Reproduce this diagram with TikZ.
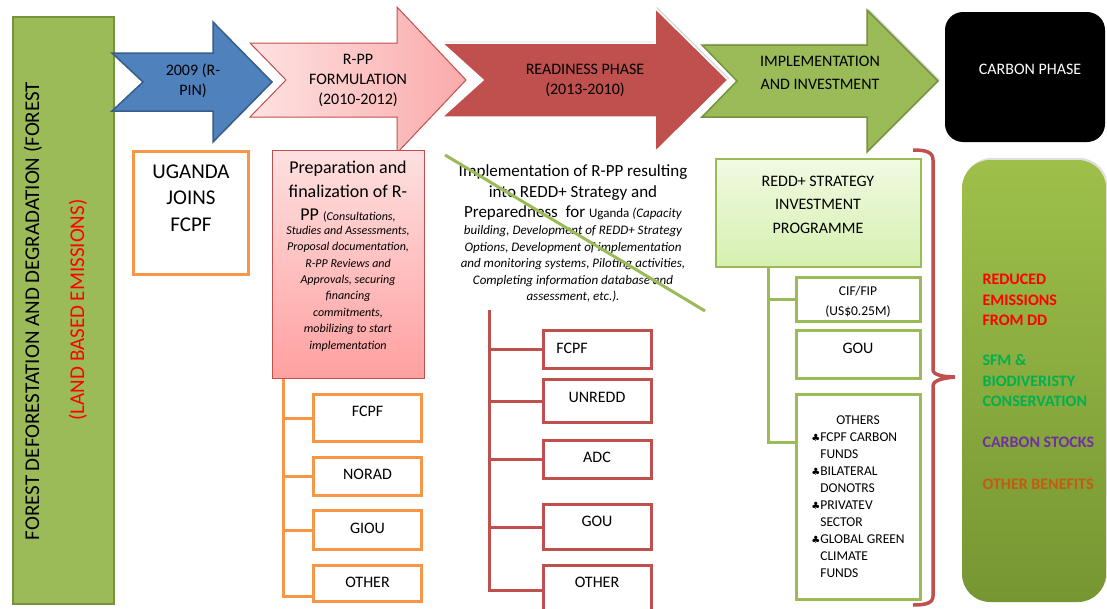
\documentclass[tikz,border=0pt]{standalone}
\usepackage{fontspec}
\setmainfont{Carlito}
\newfontfamily\clubfont{DejaVu Sans}
\usetikzlibrary{shadows}

\begin{document}
\begin{tikzpicture}[x=1pt,y=1pt,yscale=-1,xscale=1,
  arrowtext/.style={align=center, font=\fontsize{16}{20}\selectfont},
  boxtext/.style={font=\fontsize{16}{20}\selectfont},
  orangebox/.style={draw={rgb,255:red,247;green,150;blue,70}, line width=3, fill=white, minimum width=108},
  redbox/.style={draw={rgb,255:red,192;green,80;blue,77}, line width=3, fill=white, minimum width=108},
  greenbox/.style={draw={rgb,255:red,155;green,187;blue,89}, line width=3, fill=white, minimum width=124},
  orangeline/.style={draw={rgb,255:red,247;green,150;blue,70}, line width=3},
  redline/.style={draw={rgb,255:red,192;green,80;blue,77}, line width=3},
  greenline/.style={draw={rgb,255:red,155;green,187;blue,89}, line width=3},
  benefit/.style={anchor=west, align=left, font=\fontsize{16}{20.5}\selectfont\bfseries},
  ]
\useasboundingbox (0,0) rectangle (1107,608);

%Shape: Rectangle [left bar]
\node [draw={rgb,255:red,118;green,146;blue,60}, line width=2, fill={rgb,255:red,155;green,187;blue,89}, minimum width=101, minimum height=587] (bar) at (63.5,310.5) {};
% Text Node
\node [rotate=90, font=\fontsize{21}{25}\selectfont] (bartitle) at (33,311) {FOREST DEFORESTATION AND DEGRADATION (FOREST};
% Text Node
\node [rotate=90, font=\fontsize{21}{25}\selectfont, text={rgb,255:red,255;green,0;blue,0}] (barnote) at (78,310) {(LAND BASED EMISSIONS)};

%Shape: Arrow [2009]
\draw [draw={rgb,255:red,56;green,93;blue,138}, line width=1.5, fill={rgb,255:red,79;green,129;blue,189}] (112,53) -- (213,53) -- (213,22) -- (272,82) -- (213,142) -- (213,111) -- (112,111) -- (143,82) -- cycle ;
%Shape: Arrow [readiness]
\draw [draw=white, line width=1.5, fill={rgb,255:red,192;green,80;blue,77}, drop shadow={opacity=0.3, shadow xshift=1.5pt, shadow yshift=1.5pt}] (442,43) -- (655,43) -- (655,8) -- (728,80) -- (655,152) -- (655,117) -- (442,117) -- (483,80) -- cycle ;
%Shape: Arrow [R-PP]
\draw [draw={rgb,255:red,192;green,80;blue,77}, line width=1, left color={rgb,255:red,255;green,226;blue,226}, right color={rgb,255:red,250;green,170;blue,170}] (250,43) -- (397,43) -- (397,7) -- (466,80) -- (397,153) -- (397,117) -- (250,117) -- (286,80) -- cycle ;
%Shape: Arrow [implementation]
\draw [draw={rgb,255:red,118;green,146;blue,60}, line width=1.5, fill={rgb,255:red,155;green,187;blue,89}, drop shadow={opacity=0.3, shadow xshift=1.5pt, shadow yshift=1.5pt}] (702,45) -- (867,45) -- (867,10) -- (938,81) -- (867,152) -- (867,117) -- (702,117) -- (737,81) -- cycle ;

% Text Node
\node [arrowtext] (rpin) at (193,81) {2009 (R-\\PIN)};
% Text Node
\node [arrowtext] (rppform) at (358,80) {R-PP\\FORMULATION\\(2010-2012)};
% Text Node
\node [arrowtext] (readiness) at (585,80) {READINESS PHASE\\(2013-2010)};
% Text Node
\node [arrowtext, font=\fontsize{16}{23}\selectfont] (implinv) at (820,72.5) {IMPLEMENTATION\\AND INVESTMENT};

%Shape: Rounded Rectangle [carbon phase]
\node [fill=black, rounded corners=18, minimum width=160, minimum height=130] (carbon) at (1025,77) {};
% Text Node
\node [boxtext, text=white] (carbontext) at (1030,69) {CARBON PHASE};

%Shape: Rectangle [Uganda]
\node [orangebox, minimum width=115, minimum height=123] (uganda) at (191,213) {};
% Text Node
\node [align=center, font=\fontsize{21}{26.5}\selectfont] (ugandatext) at (191,198) {UGANDA\\JOINS\\FCPF};

%Shape: Rectangle [preparation]
\node [draw={rgb,255:red,192;green,80;blue,77}, line width=1.2, top color={rgb,255:red,254;green,224;blue,224}, bottom color={rgb,255:red,255;green,160;blue,160}, minimum width=152, minimum height=228] (prep) at (348.5,264.5) {};
% Text Node
\node [align=center, font=\fontsize{18}{23.5}\selectfont] (preptitle) at (348,192) {Preparation and\\finalization of R-\\PP {\fontsize{12}{14}\selectfont(\textit{Consultations,}}};
% Text Node
\node [align=center, font=\fontsize{12}{16.4}\selectfont\itshape] (prepnote) at (348,288.5) {Studies and Assessments,\\Proposal documentation,\\R-PP Reviews and\\Approvals, securing\\financing\\commitments,\\mobilizing to start\\implementation};

% Text Node
\node [align=center, font=\fontsize{17}{20.5}\selectfont] (impltitle) at (573,192.5) {Implementation of R-PP resulting\\into REDD+ Strategy and\\Preparedness\ \ for {\fontsize{13}{15}\selectfont Uganda \textit{(Capacity}}};
% Text Node
\node [align=center, font=\fontsize{13}{16.5}\selectfont\itshape] (implnote) at (573,264) {building, Development of REDD+ Strategy\\Options, Development of implementation\\and monitoring systems, Piloting activities,\\Completing information database and\\assessment, etc.).};

%Straight Lines [strike]
\coordinate (strikeA) at (445,155);
\coordinate (strikeB) at (705,311);
\draw [greenline, drop shadow={opacity=0.25, shadow xshift=1pt, shadow yshift=1pt}] (strikeA) -- (strikeB) ;

%Shape: Rectangle [orange tree]
\node [orangebox, minimum height=47] (ofcpf) at (367.5,418) {};
\node [orangebox, minimum height=38] (onorad) at (367.5,476.5) {};
\node [orangebox, minimum height=39] (ogiou) at (367.5,530) {};
\node [orangebox, minimum height=36] (oother) at (367.5,583.5) {};
% Text Node
\node [boxtext] (ofcpft) at (367.5,411) {FCPF};
\node [boxtext] (onoradt) at (367.5,474) {NORAD};
\node [boxtext] (ogiout) at (367.5,528) {GIOU};
\node [boxtext] (oothert) at (367.5,582) {OTHER};
%Straight Lines [orange tree]
\coordinate (otrunk) at (283,596);
\draw [orangeline] (prep.south -| otrunk) -- (otrunk) -- (otrunk -| oother.west) ;
\draw [orangeline] (ofcpf.west -| otrunk) -- (ofcpf.west) ;
\draw [orangeline] (onorad.west -| otrunk) -- (onorad.west) ;
\draw [orangeline] (ogiou.west -| otrunk) -- (ogiou.west) ;

%Shape: Rectangle [red tree]
\node [redbox, minimum height=38] (rfcpf) at (597.5,349.5) {};
\node [redbox, minimum height=43] (runredd) at (597.5,401) {};
\node [redbox, minimum height=38] (radc) at (597.5,459.5) {};
\node [redbox, minimum height=45] (rgou) at (597.5,527) {};
\node [redbox, minimum height=49] (rother) at (597.5,590) {};
% Text Node
\node [boxtext] (rfcpft) at (572,348) {FCPF};
\node [boxtext] (runreddt) at (597,397) {UNREDD};
\node [boxtext] (radct) at (597,457) {ADC};
\node [boxtext] (rgout) at (597,521) {GOU};
\node [boxtext] (rothert) at (597,582) {OTHER};
%Straight Lines [red tree]
\coordinate (rtrunk) at (489,310);
\draw [redline] (rtrunk) -- (rtrunk |- rother.west) -- (rother.west) ;
\draw [redline] (rfcpf.west -| rtrunk) -- (rfcpf.west) ;
\draw [redline] (runredd.west -| rtrunk) -- (runredd.west) ;
\draw [redline] (radc.west -| rtrunk) -- (radc.west) ;
\draw [redline] (rgou.west -| rtrunk) -- (rgou.west) ;

%Shape: Rectangle [REDD+ strategy]
\node [draw={rgb,255:red,155;green,187;blue,89}, line width=1.5, top color={rgb,255:red,240;green,250;blue,225}, bottom color={rgb,255:red,214;green,240;blue,176}, minimum width=205, minimum height=108] (redd) at (818.5,213) {};
% Text Node
\node [align=center, font=\fontsize{16}{23.5}\selectfont] (reddtext) at (818,204.5) {REDD+ STRATEGY\\INVESTMENT\\PROGRAMME};

%Shape: Rectangle [green tree]
\node [greenbox, minimum height=44] (gcif) at (858.5,299.5) {};
\node [greenbox, minimum height=48] (ggou) at (858.5,354.5) {};
\node [greenbox, minimum height=205] (gothers) at (858.5,497) {};
% Text Node
\node [align=center, font=\fontsize{13.5}{20}\selectfont] (gcift) at (858,302) {CIF/FIP\\(US\$0.25M)};
\node [boxtext] (ggout) at (858,348) {GOU};
\node [font=\fontsize{13.5}{17}\selectfont] (gotherst) at (858,498) {\begin{tabular}{@{}l@{}l@{}}
\multicolumn{2}{c}{OTHERS}\\
{\clubfont\fontsize{10}{12}\selectfont ♣} & FCPF CARBON\\
 & FUNDS\\
{\clubfont\fontsize{10}{12}\selectfont ♣} & BILATERAL\\
 & DONOTRS\\
{\clubfont\fontsize{10}{12}\selectfont ♣} & PRIVATEV\\
 & SECTOR\\
{\clubfont\fontsize{10}{12}\selectfont ♣} & GLOBAL GREEN\\
 & CLIMATE\\
 & FUNDS
\end{tabular}};
%Straight Lines [green tree]
\coordinate (gtrunk) at (768,442);
\draw [greenline] (redd.south -| gtrunk) -- (gtrunk) -- (gtrunk -| gothers.west) ;
\draw [greenline] (gcif.west -| gtrunk) -- (gcif.west) ;

%Shape: Brace [red]
\draw [draw={rgb,255:red,192;green,80;blue,77}, line width=3.5] (913,150) .. controls (926,150) and (933,152) .. (933,160) -- (933,370) .. controls (933,375) and (944,377) .. (955,377) .. controls (944,378) and (933,380) .. (933,386) -- (933,596) .. controls (933,603) and (926,605) .. (913,605) ;

%Shape: Rounded Rectangle [benefits]
\node [rounded corners=28, top color={rgb,255:red,158;green,192;blue,74}, bottom color={rgb,255:red,118;green,150;blue,50}, minimum width=144, minimum height=442, drop shadow={opacity=0.25, shadow xshift=1.5pt, shadow yshift=2pt}] (benefits) at (1034,381) {};
% Text Node
\node [benefit, text={rgb,255:red,255;green,0;blue,0}] (reduced) at (979,300) {REDUCED\\EMISSIONS\\FROM DD};
\node [benefit, text={rgb,255:red,0;green,176;blue,80}] (sfm) at (979,381) {SFM \&\\BIODIVERISTY\\CONSERVATION};
\node [benefit, text={rgb,255:red,112;green,48;blue,160}] (stocks) at (979,442) {CARBON STOCKS};
\node [benefit, text={rgb,255:red,197;green,90;blue,17}] (otherben) at (979,484) {OTHER BENEFITS};

\end{tikzpicture}
\end{document}
